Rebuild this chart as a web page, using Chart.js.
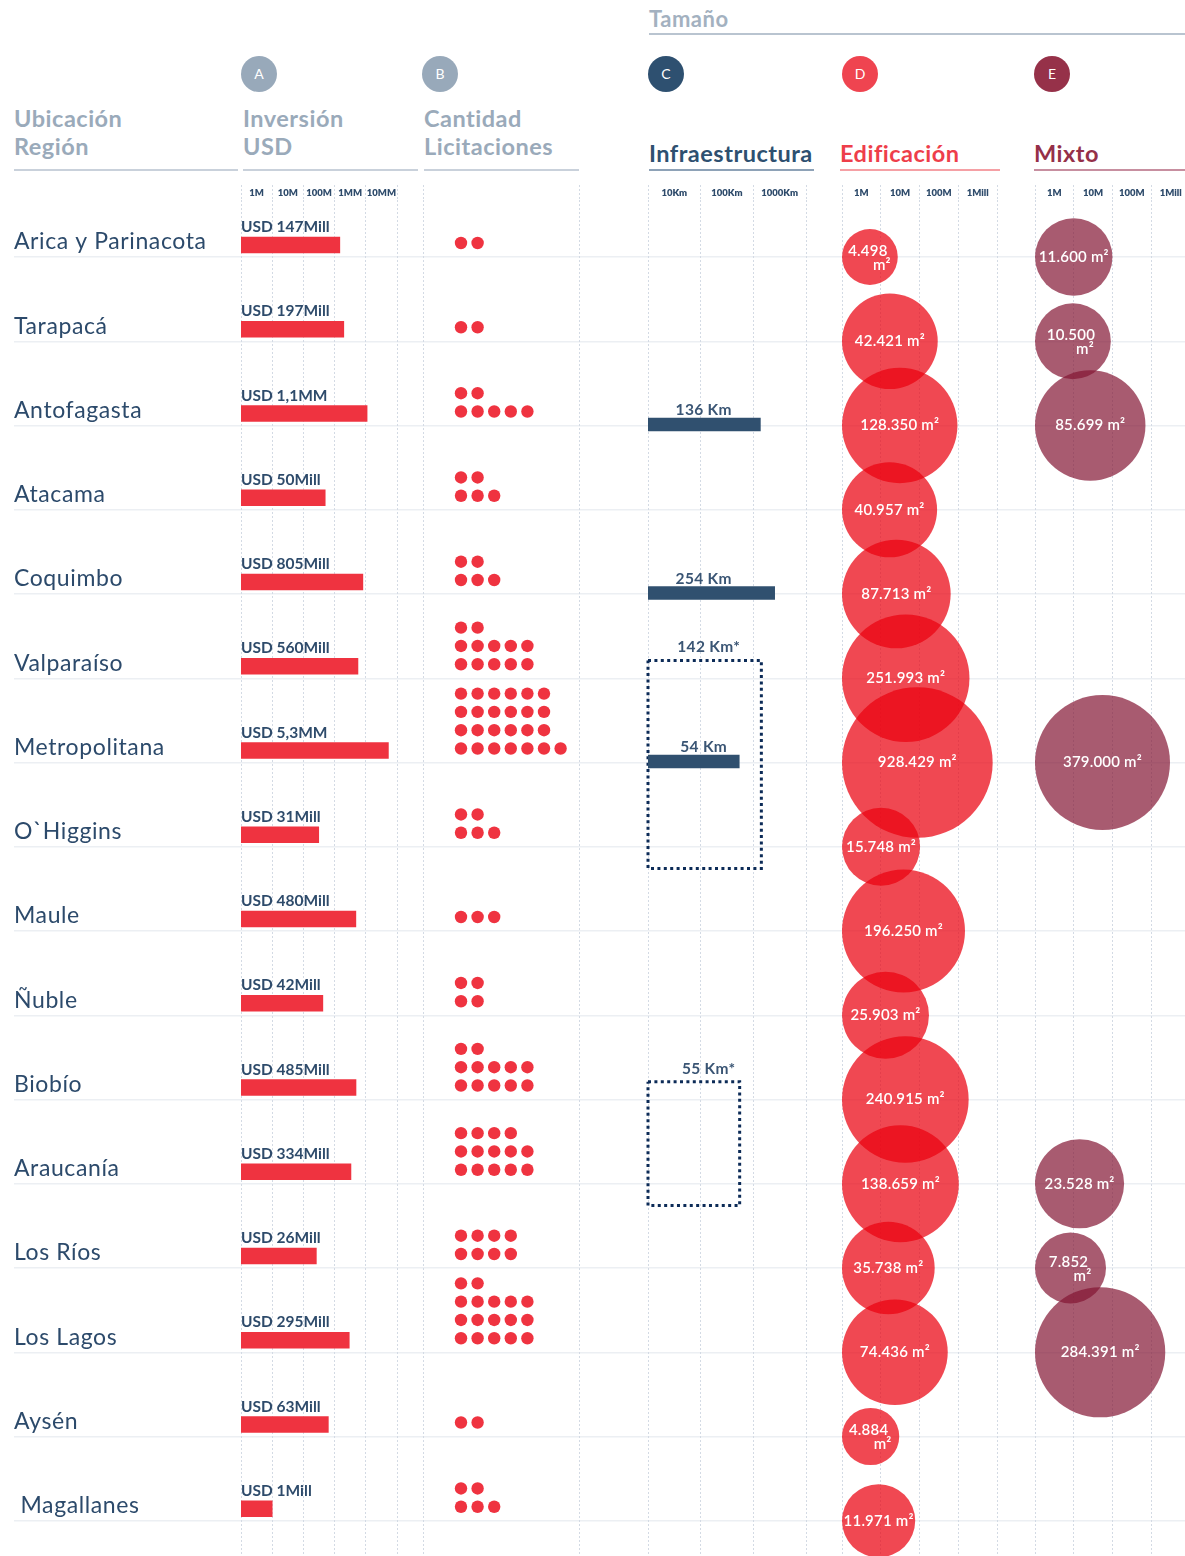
<!DOCTYPE html>
<html lang="es">
<head>
<meta charset="utf-8">
<title>Licitaciones por región</title>
<script src="https://cdn.jsdelivr.net/npm/chart.js@4.4.1/dist/chart.umd.min.js"></script>
<style>
  html, body { margin: 0; padding: 0; background: #fff; overflow: hidden; }
  body { width: 1185px; height: 1556px; position: relative; font-family: Lato, "Open Sans", sans-serif; }
  canvas { position: absolute; top: 0; }
  .h { position: absolute; font-weight: 700; font-size: 23.5px; line-height: 28px; letter-spacing: 0.5px; white-space: nowrap; }
  .gray { color: #9aaaba; }
  .rule { position: absolute; height: 2px; }
  .badge { position: absolute; width: 36px; height: 36px; border-radius: 50%; color: #fff;
           font-size: 14px; line-height: 36px; text-align: center; }
</style>
</head>
<body>
<!-- cabeceras -->
<div class="h" style="left:649px;top:5px;font-size:22px;color:#a3b1c0">Tamaño</div>
<div class="rule" style="left:649px;top:33px;width:536px;height:1.5px;background:#b9c4d0"></div>

<div class="badge" style="left:241px;top:56px;background:#98a9ba">A</div>
<div class="badge" style="left:422px;top:56px;background:#98a9ba">B</div>
<div class="badge" style="left:648px;top:56px;background:#2e5070">C</div>
<div class="badge" style="left:842px;top:56px;background:#ef4450">D</div>
<div class="badge" style="left:1034px;top:56px;background:#963149">E</div>

<div class="h gray" style="left:14px;top:104px">Ubicación<br>Región</div>
<div class="h gray" style="left:243px;top:104px">Inversión<br>USD</div>
<div class="h gray" style="left:424px;top:104px">Cantidad<br>Licitaciones</div>
<div class="rule" style="left:14px;top:169px;width:224px;background:#c9d1db"></div>
<div class="rule" style="left:243px;top:169px;width:175px;background:#c9d1db"></div>
<div class="rule" style="left:424px;top:169px;width:155px;background:#c9d1db"></div>

<div class="h" style="left:649px;top:139px;color:#2e5070">Infraestructura</div>
<div class="h" style="left:840px;top:139px;color:#ee3e4a">Edificación</div>
<div class="h" style="left:1034px;top:139px;color:#953049">Mixto</div>
<div class="rule" style="left:649px;top:169px;width:165px;background:#8ea2b7"></div>
<div class="rule" style="left:840px;top:169px;width:160px;background:#f5a0a5"></div>
<div class="rule" style="left:1034px;top:169px;width:151px;background:#c78fa0"></div>

<script>
// Datos
const REGIONES = ['Arica y Parinacota', 'Tarapacá', 'Antofagasta', 'Atacama', 'Coquimbo', 'Valparaíso',
  'Metropolitana', 'O`Higgins', 'Maule', 'Ñuble', 'Biobío', 'Araucanía', 'Los Ríos', 'Los Lagos', 'Aysén', ' Magallanes'];
const INVERSION_MILL = [147, 197, 1100, 50, 805, 560, 5300, 31, 480, 42, 485, 334, 26, 295, 63, 1];
// licitaciones: filas de puntos, de arriba hacia abajo
const LICIT_FILAS = [[2], [2], [2, 5], [2, 3], [2, 3], [2, 5, 5], [6, 6, 6, 7], [2, 3], [3], [2, 2],
  [2, 5, 5], [4, 5, 5], [4, 4], [2, 5, 5, 5], [2], [2, 3]];
const INFRA_KM = [null, null, 136, null, 254, null, 54, null, null, null, null, null, null, null, null, null];
const GRUPO_KM = [142, 55];
const GRUPO_DESDE = [5, 10];
const GRUPO_HASTA = [7, 11];
const EDIF_M2 = [4498, 42421, 128350, 40957, 87713, 251993, 928429, 15748, 196250, 25903, 240915, 138659,
  35738, 74436, 4884, 11971];
const MIXTO_M2 = [11600, 10500, 85699, null, null, null, 379000, null, null, null, null, 23528, 7852, 284391, null, null];

const USD_DECADAS = [0.1, 1, 10, 100, 1000, 10000];
const TICKS_USD = ['1M', '10M', '100M', '1MM', '10MM', ''];
const KM_DECADAS = [1, 10, 100, 1000];
const TICKS_KM = ['10Km', '100Km', '1000Km', ''];
const TICKS_M2 = ['1M', '10M', '100M', '1Mill', ''];

// Layout
const ROW0 = 257, ROWH = 84.25, AREA_TOP = 200, H = 1556;
const FONT = 'Lato, "Open Sans", sans-serif';
const GRID = '#d3dae4';
const ROWLINE = '#eceff3';
const TXT = '#2e4b6b';
const RED = '#ef3340';

function yRange(shift) {
  return { min: (AREA_TOP - ROW0 - shift) / ROWH, max: (H - ROW0 - shift) / ROWH };
}

function panel(left, width) {
  const c = document.createElement('canvas');
  c.width = width; c.height = H;
  c.style.left = left + 'px';
  c.style.width = width + 'px'; c.style.height = H + 'px';
  document.body.appendChild(c);
  return c.getContext('2d');
}

function yHidden(shift) {
  const r = yRange(shift);
  return { type: 'linear', reverse: true, min: r.min, max: r.max, display: false, offset: false };
}

function xTop(extra, labels, half) {
  return Object.assign({
    position: 'top',
    offset: false,
    afterFit: s => { s.height = AREA_TOP; },
    border: { display: false, dash: [2, 2] },
    grid: { color: GRID, lineWidth: 1, drawTicks: true, tickLength: 15, tickColor: GRID, tickBorderDash: [2, 2], offset: false },
    ticks: {
      font: { family: FONT, size: 9.5, weight: '800' }, color: TXT,
      autoSkip: false, maxRotation: 0, minRotation: 0, padding: -14, labelOffset: half,
      callback: (v, i) => labels[i]
    }
  }, extra);
}

const base = {
  responsive: false, animation: false, events: [], devicePixelRatio: 1,
  plugins: { legend: { display: false }, tooltip: { enabled: false } }
};
const pad = { autoPadding: false, padding: { top: 0, left: 20, right: 20, bottom: 0 } };

function fmtNum(v) { return String(v).replace(/\B(?=(\d{3})+(?!\d))/g, '.'); }
function fmtUSD(v) { return v >= 1000 ? String(v / 1000).replace('.', ',') + 'MM' : v + 'Mill'; }

// Fondo: nombres de región y líneas de fila
{
  const r = yRange(0);
  new Chart(panel(0, 1185), {
    type: 'scatter',
    data: { datasets: [] },
    options: Object.assign({}, base, {
      layout: { autoPadding: false, padding: { top: AREA_TOP, left: 14, right: 0, bottom: 0 } },
      scales: {
        x: { type: 'linear', min: 0, max: 1, display: false },
        y: {
          type: 'linear', reverse: true, min: r.min, max: r.max, position: 'left', offset: false,
          afterBuildTicks: s => { s.ticks = REGIONES.map((_, i) => ({ value: i })); },
          afterFit: s => { s.width = 227; },
          border: { display: false },
          grid: { color: ROWLINE, lineWidth: 1.5, tickLength: 227, tickColor: ROWLINE, tickWidth: 1.5 },
          ticks: { display: false }
        }
      }
    }),
    plugins: [{
      id: 'regiones',
      afterDraw(chart) {
        const ctx = chart.ctx, sy = chart.scales.y;
        ctx.save();
        ctx.font = '23px ' + FONT; ctx.letterSpacing = '0.6px';
        ctx.fillStyle = '#2c4a6b'; ctx.textAlign = 'left'; ctx.textBaseline = 'middle';
        REGIONES.forEach((name, i) => ctx.fillText(name, 14, sy.getPixelForValue(i) - 15));
        ctx.restore();
      }
    }]
  });
}

// A: inversión
new Chart(panel(221, 196), {
  type: 'bar',
  data: { datasets: [{
    data: INVERSION_MILL.map((v, i) => ({ x: [USD_DECADAS[0], v], y: i })),
    backgroundColor: RED, barThickness: 16, borderWidth: 0, borderSkipped: false
  }] },
  options: Object.assign({}, base, {
    indexAxis: 'y',
    layout: pad,
    scales: {
      x: xTop({ type: 'logarithmic', min: USD_DECADAS[0], max: USD_DECADAS[USD_DECADAS.length - 1],
        afterBuildTicks: s => { s.ticks = USD_DECADAS.map(value => ({ value })); } }, TICKS_USD, 15.6),
      y: yHidden(-12)
    }
  }),
  plugins: [{
    id: 'usdLabels',
    afterDatasetsDraw(chart) {
      const ctx = chart.ctx;
      ctx.save();
      ctx.font = '700 15.5px ' + FONT; ctx.fillStyle = TXT; ctx.textAlign = 'left'; ctx.textBaseline = 'alphabetic';
      chart.getDatasetMeta(0).data.forEach((bar, i) => {
        ctx.fillText('USD ' + fmtUSD(INVERSION_MILL[i]), chart.chartArea.left, bar.y - 13);
      });
      ctx.restore();
    }
  }]
});

// B: cantidad de licitaciones
{
  const DOT_X0 = 38, DOT_DX = 16.6, DOT_DY = 18.3 / ROWH, W = 156;
  const puntos = [];
  LICIT_FILAS.forEach((filas, i) => {
    filas.forEach((n, j) => {
      const desdeAbajo = filas.length - 1 - j;
      for (let c = 0; c < n; c++) puntos.push({ x: c, y: i - desdeAbajo * DOT_DY });
    });
  });
  const xmin = -DOT_X0 / DOT_DX, xmax = xmin + W / DOT_DX;
  new Chart(panel(403, 196), {
    type: 'scatter',
    data: { datasets: [{ data: puntos, pointRadius: 6.2, pointBackgroundColor: RED, pointBorderWidth: 0, clip: false }] },
    options: Object.assign({}, base, {
      layout: pad,
      scales: {
        x: xTop({ type: 'linear', min: xmin, max: xmax,
          afterBuildTicks: s => { s.ticks = [{ value: xmin }, { value: xmax }]; } }, ['', ''], 0),
        y: yHidden(-14)
      }
    })
  });
}

// C: infraestructura
{
  const RECT_TOP = 0.2, RECT_BOT = 0.27;
  const KM_MIN = KM_DECADAS[0];
  const grupos = GRUPO_KM.map((km, g) => {
    const t = GRUPO_DESDE[g] - RECT_TOP, b = GRUPO_HASTA[g] + RECT_BOT;
    return {
      type: 'line',
      data: [{ x: KM_MIN, y: t }, { x: km, y: t }, { x: km, y: b }, { x: KM_MIN, y: b }, { x: KM_MIN, y: t }],
      borderColor: '#0c2b57', borderWidth: 3, borderDash: [3, 3.4], pointRadius: 0, fill: false,
      tension: 0, clip: false
    };
  });
  new Chart(panel(628, 198), {
    type: 'bar',
    data: { datasets: [{
      type: 'bar',
      data: INFRA_KM.map((v, i) => v == null ? null : { x: [KM_MIN, v], y: i }).filter(Boolean),
      backgroundColor: '#30506f', barThickness: 13, borderWidth: 0, borderSkipped: false
    }].concat(grupos) },
    options: Object.assign({}, base, {
      indexAxis: 'y',
      layout: pad,
      scales: {
        x: xTop({ type: 'logarithmic', min: KM_MIN, max: KM_DECADAS[KM_DECADAS.length - 1],
          afterBuildTicks: s => { s.ticks = KM_DECADAS.map(value => ({ value })); } }, TICKS_KM, 26.3),
        y: yHidden(-1)
      }
    }),
    plugins: [{
      id: 'kmLabels',
      afterDatasetsDraw(chart) {
        const ctx = chart.ctx, sx = chart.scales.x, sy = chart.scales.y;
        const cx = sx.getPixelForValue(10) + 3;
        ctx.save();
        ctx.font = '700 15.5px ' + FONT; ctx.letterSpacing = '0.3px';
        ctx.fillStyle = '#3a5574'; ctx.textAlign = 'center'; ctx.textBaseline = 'alphabetic';
        INFRA_KM.forEach((v, i) => {
          if (v == null) return;
          ctx.fillText(v + ' Km', cx, sy.getPixelForValue(i) - 9.5);
        });
        GRUPO_KM.forEach((v, g) => {
          ctx.fillText(v + ' Km*', cx + 5, sy.getPixelForValue(GRUPO_DESDE[g] - RECT_TOP) - 8);
        });
        ctx.restore();
      }
    }]
  });
}

// D y E: burbujas de superficie
function burbujas(left, valores, color, radio) {
  const data = valores.map((v, i) => v == null ? null : { x: radio(v), y: i, r: radio(v), v }).filter(Boolean);
  new Chart(panel(left - 20, 195), {
    type: 'bubble',
    data: { datasets: [{ data, backgroundColor: color, borderWidth: 0, hoverBorderWidth: 0, clip: false }] },
    options: Object.assign({}, base, {
      layout: pad,
      scales: {
        x: xTop({ type: 'linear', min: 0, max: 155,
          afterBuildTicks: s => { s.ticks = [0, 38.75, 77.5, 116.25, 155].map(value => ({ value })); } }, TICKS_M2, 19.4),
        y: yHidden(0)
      }
    }),
    plugins: [{
      id: 'm2Labels',
      afterDatasetsDraw(chart) {
        const ctx = chart.ctx;
        ctx.save();
        ctx.font = '600 15px ' + FONT; ctx.letterSpacing = '0.2px';
        ctx.fillStyle = '#fff'; ctx.textAlign = 'center'; ctx.textBaseline = 'middle';
        chart.getDatasetMeta(0).data.forEach((el, k) => {
          const v = data[k].v;
          if (v < 11000) {
            ctx.fillText(fmtNum(v), el.x - 2, el.y - 6);
            ctx.fillText('m²', el.x + 12, el.y + 8);
          } else {
            ctx.fillText(fmtNum(v) + ' m²', el.x, el.y);
          }
        });
        ctx.restore();
      }
    }]
  });
}

burbujas(842, EDIF_M2, 'rgba(234, 1, 15, 0.72)', v => 20.5 * Math.log10(v) - 47);
burbujas(1035, MIXTO_M2, 'rgba(131, 22, 51, 0.7)', v => 19 * Math.log10(v) - 38.5);
</script>
</body>
</html>
